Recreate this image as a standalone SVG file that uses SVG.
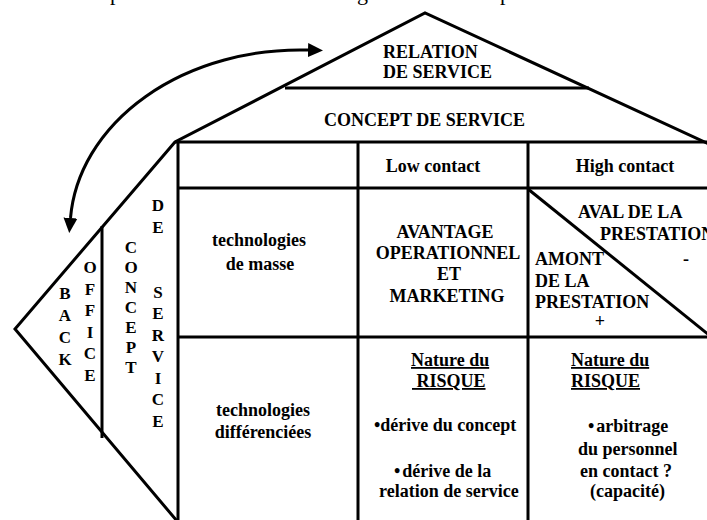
<svg xmlns="http://www.w3.org/2000/svg" width="707" height="520" viewBox="0 0 707 520" font-family="'Liberation Serif', 'Times New Roman', Times, 'DejaVu Serif', serif">
<style>
.ln{fill:none;stroke:#000;stroke-width:3;stroke-linejoin:miter}
text{font-family:'Liberation Serif','Times New Roman',Times,'DejaVu Serif',serif}
.t{font-weight:bold;font-size:18px;fill:#000}
.m{text-anchor:middle}
.u{text-decoration:underline}
.v{font-weight:bold;font-size:17px;fill:#000;text-anchor:middle}
.frag{font-size:22px;fill:#000}
</style>
<defs>
<marker id="ah" markerUnits="userSpaceOnUse" markerWidth="16" markerHeight="16" refX="0" refY="7" orient="auto-start-reverse" viewBox="0 0 16 14">
<path d="M0,0 L15,7 L0,14 Z" fill="#000"/>
</marker>
</defs>
<rect width="707" height="520" fill="#fff"/>
<g id="top-fragments">
<text class="frag" x="110" y="0">p</text>
<text class="frag" x="357" y="0">g</text>
<text class="frag" x="500" y="0">p</text>
</g>
<g id="house-outline">
<polyline class="ln" points="708,143.5 425,13 175,142 15,329 177,521"/>
<line class="ln" x1="285" y1="88" x2="589" y2="88"/>
<line class="ln" x1="102" y1="226" x2="102" y2="438"/>
</g>
<g id="table">
<line class="ln" x1="175" y1="142" x2="707" y2="142"/>
<line class="ln" x1="178" y1="142" x2="178" y2="520"/>
<line class="ln" x1="358" y1="142" x2="358" y2="520"/>
<line class="ln" x1="528" y1="142" x2="528" y2="520"/>
<line class="ln" x1="178" y1="188" x2="707" y2="188"/>
<line class="ln" x1="178" y1="337" x2="707" y2="337"/>
<line class="ln" x1="528" y1="189" x2="709" y2="335"/>
</g>
<g id="relation-de-service">
<text class="t" x="383" y="58">RELATION</text>
<text class="t" x="383" y="78">DE SERVICE</text>
</g>
<g id="concept-de-service">
<text class="t m" x="424.5" y="126">CONCEPT DE SERVICE</text>
</g>
<g id="header-low">
<text class="t m" x="433" y="172">Low contact</text>
</g>
<g id="header-high">
<text class="t m" x="625" y="172">High contact</text>
</g>
<g id="tech-masse">
<text class="t m" x="259" y="246">technologies</text>
<text class="t m" x="260" y="270">de masse</text>
</g>
<g id="avantage">
<text class="t m" x="445" y="238">AVANTAGE</text>
<text class="t m" x="448" y="259">OPERATIONNEL</text>
<text class="t m" x="449" y="280">ET</text>
<text class="t m" x="447" y="302">MARKETING</text>
</g>
<g id="aval-amont">
<text class="t" x="578" y="218">AVAL DE LA</text>
<text class="t" x="600" y="240">PRESTATION</text>
<text class="t" x="683" y="265">-</text>
<text class="t" x="535" y="265">AMONT</text>
<text class="t" x="535" y="287">DE LA</text>
<text class="t" x="535" y="308">PRESTATION</text>
<text class="t m" x="600" y="327">+</text>
</g>
<g id="tech-diff">
<text class="t m" x="263" y="416">technologies</text>
<text class="t m" x="263" y="438">différenciées</text>
</g>
<g id="risque-low">
<text class="t u" x="411" y="366">Nature du</text>
<text class="t u" x="412" y="387">&#160;RISQUE</text>
<text class="t" x="374" y="431">•dérive du concept</text>
<text class="t" x="394" y="477">•<tspan dx="2">dérive de la</tspan></text>
<text class="t" x="379" y="497">relation de service</text>
</g>
<g id="risque-high">
<text class="t u" x="571" y="366">Nature du</text>
<text class="t u" x="571" y="387">RISQUE</text>
<text class="t" x="588" y="432">•<tspan dx="2">arbitrage</tspan></text>
<text class="t" x="578" y="455">du personnel</text>
<text class="t" x="580" y="477">en contact ?</text>
<text class="t" x="590" y="497">(capacité)</text>
</g>
<g id="back-office">
<text class="v" x="65" y="299">B</text>
<text class="v" x="65" y="321">A</text>
<text class="v" x="65" y="343">C</text>
<text class="v" x="65" y="365">K</text>
<text class="v" x="90" y="273">O</text>
<text class="v" x="90" y="294.5">F</text>
<text class="v" x="90" y="316">F</text>
<text class="v" x="90" y="337.5">I</text>
<text class="v" x="90" y="359">C</text>
<text class="v" x="90" y="380.5">E</text>
</g>
<g id="concept-de-service-vertical">
<text class="v" x="131" y="253">C</text>
<text class="v" x="131" y="273">O</text>
<text class="v" x="131" y="293">N</text>
<text class="v" x="131" y="313">C</text>
<text class="v" x="131" y="333">E</text>
<text class="v" x="131" y="353">P</text>
<text class="v" x="131" y="373">T</text>
<text class="v" x="158" y="211">D</text>
<text class="v" x="158" y="232.5">E</text>
<text class="v" x="158" y="297.5">S</text>
<text class="v" x="158" y="319">E</text>
<text class="v" x="158" y="340.5">R</text>
<text class="v" x="158" y="362">V</text>
<text class="v" x="158" y="383.5">I</text>
<text class="v" x="158" y="405">C</text>
<text class="v" x="158" y="426.5">E</text>
</g>
<g id="connectors">
<path class="ln" d="M308,50.1 A230,180 0 0 0 70.5,218" marker-start="url(#ah)" marker-end="url(#ah)"/>
</g>
</svg>
